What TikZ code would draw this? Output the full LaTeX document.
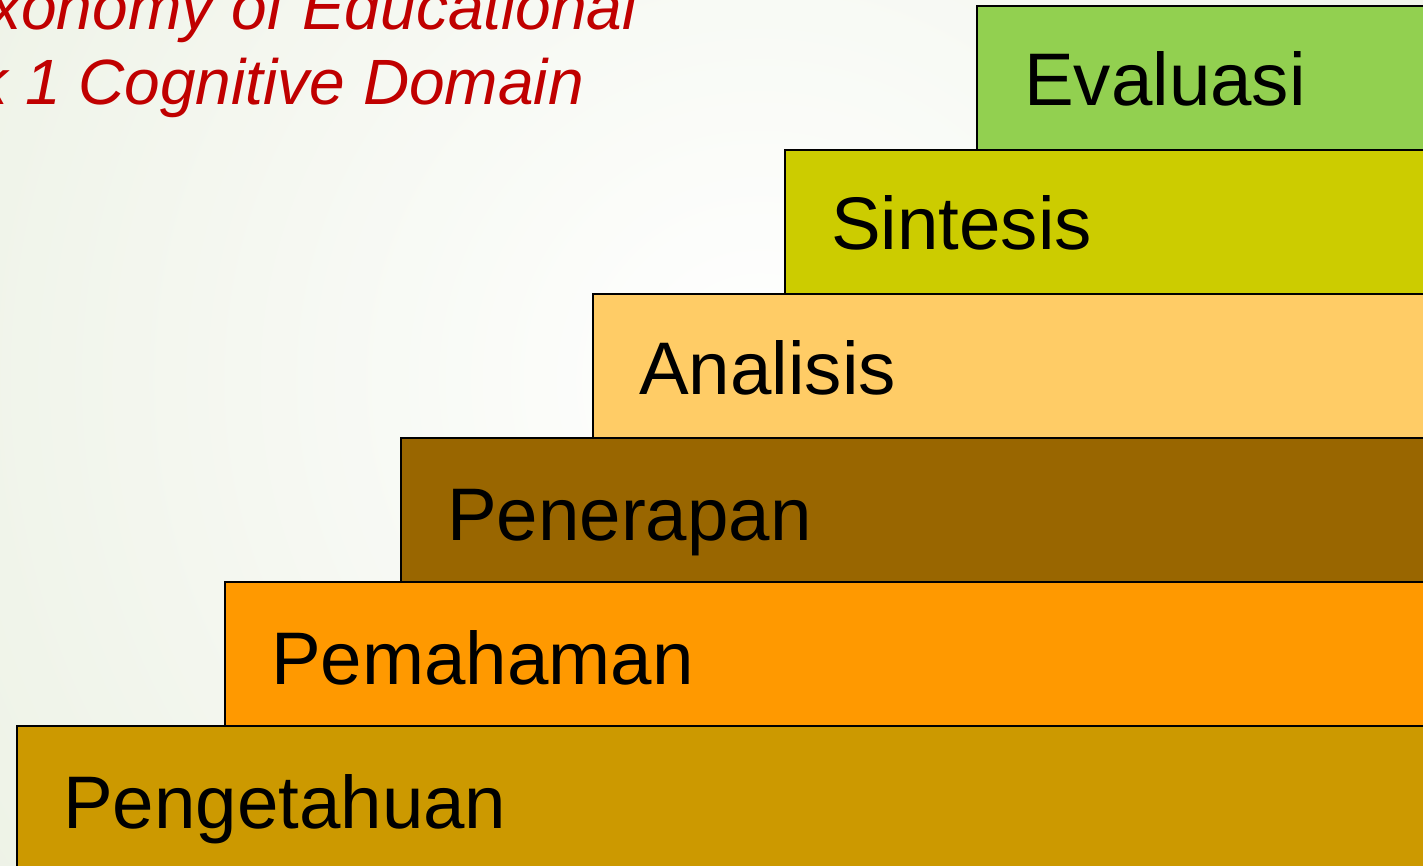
\documentclass[tikz,border=0pt]{standalone}
\usepackage{fontspec}
\setmainfont{Liberation Sans}
\definecolor{bgout}{RGB}{236,241,228}
\definecolor{titlered}{RGB}{192,0,0}
\definecolor{cEval}{RGB}{146,208,80}
\definecolor{cSint}{RGB}{204,204,0}
\definecolor{cAnal}{RGB}{255,204,102}
\definecolor{cPene}{RGB}{153,102,0}
\definecolor{cPema}{RGB}{255,153,0}
\definecolor{cPeng}{RGB}{204,153,0}
\begin{document}
\begin{tikzpicture}[x=1pt,y=-1pt,
  stepbox/.style={draw=black,line width=2pt},
  steplabel/.style={anchor=base west,inner sep=0pt,font=\fontsize{74.5}{80}\selectfont,text=black},
  titletext/.style={anchor=base east,inner sep=0pt,font=\fontsize{64}{72}\selectfont\itshape,text=titlered}]
\useasboundingbox (0,0) rectangle (1423,866);
\begin{scope}
  \clip (0,0) rectangle (1423,866);
  \shade[inner color=white,outer color=bgout] (760,380) circle (1000);
  % title
  \node[titletext] (t1) at (637,30) {Taxonomy of Educational};
  \node[titletext] (t2) at (584,105) {Book 1 Cognitive Domain};
  % steps
  \filldraw[stepbox,fill=cEval] (977,6) rectangle (1440,150);
  \filldraw[stepbox,fill=cSint] (785,150) rectangle (1440,294);
  \filldraw[stepbox,fill=cAnal] (593,294) rectangle (1440,438);
  \filldraw[stepbox,fill=cPene] (401,438) rectangle (1440,582);
  \filldraw[stepbox,fill=cPema] (225,582) rectangle (1440,726);
  \filldraw[stepbox,fill=cPeng] (17,726) rectangle (1440,890);
  \node[steplabel] (l6) at (1024,106) {Evaluasi};
  \node[steplabel] (l5) at (831,250) {Sintesis};
  \node[steplabel] (l4) at (639,394) {Analisis};
  \node[steplabel] (l3) at (447,540) {Penerapan};
  \node[steplabel] (l2) at (271,684) {Pemahaman};
  \node[steplabel] (l1) at (63,828) {Pengetahuan};
\end{scope}
\end{tikzpicture}
\end{document}
